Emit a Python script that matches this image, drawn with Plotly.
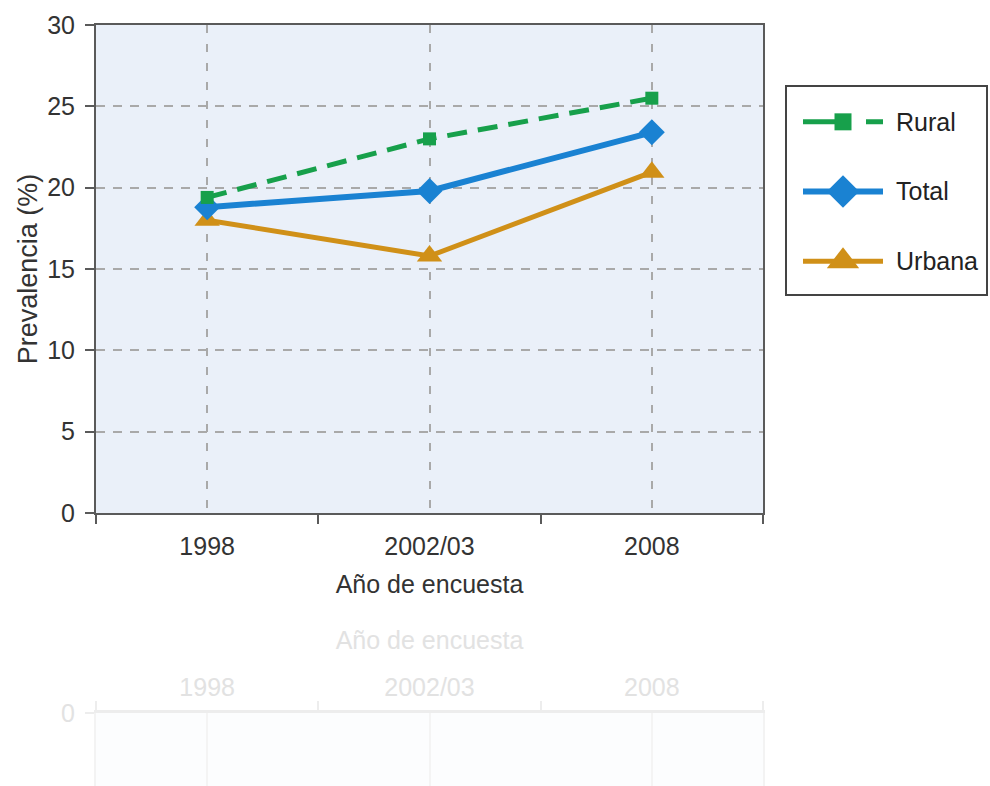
import plotly.graph_objects as go

# Survey years and prevalence (%) by area
years = ["1998", "2002/03", "2008"]
rural = [19.4, 23.0, 25.5]
total = [18.8, 19.8, 23.4]
urbana = [18.0, 15.8, 20.95]

series_names = ["Rural", "Total", "Urbana"]
y_ticks = [0, 5, 10, 15, 20, 25, 30]

GREEN = "#17a04b"
BLUE = "#1a82d2"
GOLD = "#d09018"
FONT = "Liberation Sans, Arial, sans-serif"

W, H = 990, 786
# pixel frame of the main plot, legend and the faded reflection strip
PL, PR, PT, PB = 96, 763, 25, 513
REF_Y = 713


def fx(px):
    return px / W


def fy(py):
    return 1 - py / H


xi = list(range(len(years)))
bounds = [i - 0.5 for i in range(len(years) + 1)]

fig = go.Figure()

styles = {
    "Urbana": (urbana, GOLD, "solid", "triangle-up", 22, 5, 28),
    "Total": (total, BLUE, "solid", "diamond", 20, 6, 25),
    "Rural": (rural, GREEN, "20px,11px", "square", 13, 5, 17),
}
for name in ["Urbana", "Total", "Rural"]:
    vals, col, dash, sym, size, lw, _ = styles[name]
    fig.add_trace(go.Scatter(
        x=xi, y=vals, name=name, mode="lines+markers",
        line=dict(color=col, width=lw, dash=dash),
        marker=dict(symbol=sym, size=size, color=col),
        xaxis="x", yaxis="y", showlegend=False, hoverinfo="skip",
    ))

# legend samples drawn on their own small axes; names are its tick labels
legend_dash = {"Rural": "32px,31px", "Total": "solid", "Urbana": "solid"}
for name in series_names:
    _, col, _, sym, _, lw, lsize = styles[name]
    fig.add_trace(go.Scatter(
        x=[0, 1], y=[name] * 2, mode="lines",
        line=dict(color=col, width=lw, dash=legend_dash[name]),
        xaxis="x3", yaxis="y3", showlegend=False, hoverinfo="skip",
    ))
    fig.add_trace(go.Scatter(
        x=[0.5], y=[name], mode="markers",
        marker=dict(symbol=sym, size=lsize, color=col),
        xaxis="x3", yaxis="y3", showlegend=False, hoverinfo="skip",
    ))

# invisible point to anchor the reflection axes
fig.add_trace(go.Scatter(x=[0], y=[-10], mode="markers",
                         marker=dict(opacity=0), xaxis="x2", yaxis="y2",
                         showlegend=False, hoverinfo="skip"))

axis_col = "#5a5a5a"
grid_col = "#a9a9a9"
text_col = "#333333"
faint = "#e2e2e2"
faint_line = "#ededed"

fig.update_layout(
    width=W, height=H,
    margin=dict(l=0, r=0, t=0, b=0, autoexpand=False),
    paper_bgcolor="white",
    plot_bgcolor="white",
    font=dict(family=FONT, size=25, color=text_col),
    xaxis=dict(
        domain=[fx(PL), fx(PR)], anchor="y", automargin=False,
        range=[-0.5, len(years) - 0.5],
        tickvals=xi, ticktext=years,
        ticks="outside", ticklen=0, ticklabelstandoff=10,
        showline=True, linecolor=axis_col, linewidth=2, mirror=True,
        showgrid=True, gridcolor=grid_col, gridwidth=1.5, griddash="8px,11px",
        zeroline=False,
        minor=dict(tickvals=bounds, ticks="outside", ticklen=9,
                   tickwidth=2, tickcolor=axis_col, showgrid=False),
        title=dict(text="Año de encuesta", standoff=16,
                   font=dict(size=25, color=text_col)),
        fixedrange=True,
    ),
    yaxis=dict(
        domain=[fy(PB), fy(PT)], anchor="x", automargin=False,
        range=[0, 30], tickvals=y_ticks,
        ticks="outside", ticklen=9, tickwidth=2, tickcolor=axis_col,
        ticklabelstandoff=5,
        showline=True, linecolor=axis_col, linewidth=2, mirror=True,
        showgrid=True, gridcolor=grid_col, gridwidth=1.5, griddash="9px,8px",
        zeroline=False,
        title=dict(text="Prevalencia (%)", standoff=2,
                   font=dict(size=27, color=text_col)),
        fixedrange=True,
    ),
    # faded mirror image under the chart
    xaxis2=dict(
        domain=[fx(PL), fx(PR)], anchor="y2", side="top", automargin=False,
        range=[-0.5, len(years) - 0.5],
        tickvals=xi, ticktext=years,
        ticks="outside", ticklen=0, ticklabelstandoff=4,
        tickfont=dict(color=faint, size=25),
        showline=True, linecolor=faint_line, linewidth=3, mirror=False,
        showgrid=True, gridcolor="#f4f4f4", gridwidth=1.5,
        zeroline=False,
        minor=dict(tickvals=bounds, ticks="outside", ticklen=9,
                   tickwidth=2, tickcolor=faint_line, showgrid=False),
        title=dict(text="Año de encuesta", standoff=17,
                   font=dict(size=25, color=faint)),
        fixedrange=True,
    ),
    yaxis2=dict(
        domain=[0, fy(REF_Y)], anchor="x2", automargin=False,
        range=[-(H - REF_Y) / ((PB - PT) / 30), 0], tickvals=[0],
        ticks="outside", ticklen=9, tickwidth=2, tickcolor=faint_line,
        tickfont=dict(color=faint, size=25), ticklabelstandoff=5,
        showline=True, linecolor="#f3f3f3", linewidth=2, mirror=True,
        showgrid=False, zeroline=False, fixedrange=True,
    ),
    xaxis3=dict(
        domain=[fx(803), fx(883)], anchor="y3", range=[0, 1],
        visible=False, fixedrange=True, automargin=False,
    ),
    yaxis3=dict(
        domain=[fy(296), fy(87)], anchor="x3", side="right", automargin=False,
        type="category", categoryorder="array", categoryarray=series_names,
        range=[len(series_names) - 0.5, -0.5],
        showline=False, showgrid=False, zeroline=False, ticks="",
        ticklabelstandoff=12,
        tickfont=dict(size=25, color="#222222"),
        fixedrange=True,
    ),
    shapes=[
        # pale blue panel behind the main plot's grid
        dict(type="rect", xref="x domain", yref="y domain",
             x0=0, x1=1, y0=0, y1=1, layer="below",
             line=dict(width=0), fillcolor="#eaf0f9"),
        # faint panel of the reflection
        dict(type="rect", xref="x2 domain", yref="y2 domain",
             x0=0, x1=1, y0=0, y1=1, layer="below",
             line=dict(width=0), fillcolor="#fcfdfe"),
        # legend frame
        dict(type="rect", xref="paper", yref="paper",
             x0=fx(786), x1=fx(987), y0=fy(295), y1=fy(86),
             line=dict(color="#444444", width=2),
             fillcolor="rgba(0,0,0,0)", layer="below"),
    ],
)

fig.write_html("out.html")
